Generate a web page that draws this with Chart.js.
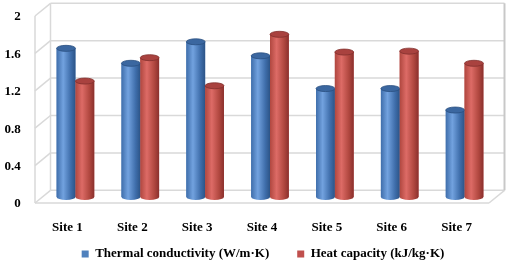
<!DOCTYPE html>
<html>
<head>
<meta charset="utf-8">
<script src="https://cdn.jsdelivr.net/npm/chart.js@4"></script>
<style>
  html, body { margin: 0; padding: 0; background: #fff; }
</style>
</head>
<body>
<canvas id="siteChart" width="509" height="262"></canvas>
<script>
var sites = ["Site 1", "Site 2", "Site 3", "Site 4", "Site 5", "Site 6", "Site 7"];
var thermalConductivity = [1.59, 1.43, 1.66, 1.51, 1.16, 1.16, 0.93];
var heatCapacity = [1.24, 1.49, 1.19, 1.74, 1.55, 1.56, 1.43];
var yTicks = [0, 0.4, 0.8, 1.2, 1.6, 2];

// offsets of the back wall and the front plane from the bars' plane
var BACK = { dx: 7.5, dy: -6.7 };
var FRONT = { dx: -8, dy: 6 };

var cylinderColors = [
  { edge: "#3f6eab", light: "#72a2df", dark: "#2c5487", top: "#3b67a0", rim: "#2a4f80" },
  { edge: "#b0473f", light: "#dd6b66", dark: "#8a302d", top: "#a9423f", rim: "#82302d" }
];

function line(ctx, x1, y1, x2, y2) {
  ctx.beginPath();
  ctx.moveTo(x1, y1);
  ctx.lineTo(x2, y2);
  ctx.stroke();
}

// grey walls and floor of the 3D box
var depthFrame = {
  id: "depthFrame",
  beforeDatasetsDraw: function (chart) {
    var ctx = chart.ctx, a = chart.chartArea, y = chart.scales.y;
    ctx.save();
    ctx.strokeStyle = "#d9d9d9";
    ctx.lineWidth = 1.5;
    yTicks.forEach(function (v) {
      var py = y.getPixelForValue(v);
      line(ctx, a.left + BACK.dx, py + BACK.dy, a.right + BACK.dx, py + BACK.dy);
      line(ctx, a.left + BACK.dx, py + BACK.dy, a.left + FRONT.dx, py + FRONT.dy);
    });
    line(ctx, a.left + BACK.dx, a.top + BACK.dy, a.left + BACK.dx, a.bottom + BACK.dy);
    line(ctx, a.left + FRONT.dx, a.top + FRONT.dy, a.left + FRONT.dx, a.bottom + FRONT.dy);
    line(ctx, a.left + FRONT.dx, a.bottom + FRONT.dy, a.right + FRONT.dx, a.bottom + FRONT.dy);
    line(ctx, a.right + FRONT.dx, a.bottom + FRONT.dy, a.right + BACK.dx, a.bottom + BACK.dy);
    ctx.strokeStyle = "#c8c8c8";
    ctx.lineWidth = 2;
    line(ctx, a.right + BACK.dx, a.top + BACK.dy, a.right + BACK.dx, a.bottom + BACK.dy);
    ctx.restore();
  }
};

// redraw every bar as a shaded cylinder
var cylinders = {
  id: "cylinders",
  afterDatasetsDraw: function (chart) {
    var ctx = chart.ctx;
    ctx.save();
    chart.data.datasets.forEach(function (ds, i) {
      var pal = cylinderColors[i];
      chart.getDatasetMeta(i).data.forEach(function (bar) {
        var p = bar.getProps(["x", "y", "base", "width"], true);
        var rx = p.width / 2, ry = 3;
        var l = p.x - rx, r = p.x + rx;
        var g = ctx.createLinearGradient(l, 0, r, 0);
        g.addColorStop(0, pal.edge);
        g.addColorStop(0.35, pal.light);
        g.addColorStop(0.75, pal.edge);
        g.addColorStop(1, pal.dark);
        ctx.fillStyle = g;
        ctx.beginPath();
        ctx.moveTo(l, p.y);
        ctx.lineTo(l, p.base);
        ctx.ellipse(p.x, p.base, rx, ry, 0, Math.PI, 0, true);
        ctx.lineTo(r, p.y);
        ctx.closePath();
        ctx.fill();
        ctx.fillStyle = pal.top;
        ctx.strokeStyle = pal.rim;
        ctx.lineWidth = 0.8;
        ctx.beginPath();
        ctx.ellipse(p.x, p.y, rx, ry, 0, 0, Math.PI * 2);
        ctx.fill();
        ctx.stroke();
      });
    });
    ctx.restore();
  }
};

Chart.defaults.font.family = "'Times New Roman', 'Liberation Serif', serif";
Chart.defaults.font.size = 13;
Chart.defaults.font.weight = "bold";
Chart.defaults.color = "#000";

var ctx = document.getElementById("siteChart").getContext("2d");
var siteChart = new Chart(ctx, {
  type: "bar",
  data: {
    labels: sites,
    datasets: [
      {
        label: "Thermal conductivity (W/m·K)",
        data: thermalConductivity,
        backgroundColor: "#4F81BD",
        borderWidth: 0
      },
      {
        label: "Heat capacity (kJ/kg·K)",
        data: heatCapacity,
        backgroundColor: "#C0504D",
        borderWidth: 0
      }
    ]
  },
  options: {
    responsive: false,
    animation: false,
    layout: {
      padding: { top: 10, left: 29, right: 12, bottom: -8.5 }
    },
    datasets: {
      bar: { categoryPercentage: 0.58, barPercentage: 1.0 }
    },
    scales: {
      x: {
        grid: { display: false, drawTicks: false },
        border: { display: false },
        // mirror keeps the labels from being clipped to the short axis box
        ticks: { mirror: true, padding: -38, labelOffset: -8 },
        afterFit: function (scale) {
          scale.height = 22.5;
          scale.paddingLeft = 0;
          scale.paddingRight = 0;
        }
      },
      y: {
        min: 0,
        max: 2,
        grid: { display: false, drawTicks: false },
        border: { display: false },
        ticks: {
          mirror: true,
          crossAlign: "far",
          padding: -38.5,
          labelOffset: 7,
          callback: function (value) { return String(+value); }
        },
        afterBuildTicks: function (scale) {
          scale.ticks = yTicks.map(function (v) { return { value: v }; });
        },
        afterFit: function (scale) {
          scale.width = 14;
          scale.paddingTop = 0;
          scale.paddingBottom = 0;
        }
      }
    },
    plugins: {
      legend: {
        position: "bottom",
        labels: { boxWidth: 7, boxHeight: 7, padding: 28 }
      },
      tooltip: { enabled: false }
    }
  },
  plugins: [depthFrame, cylinders]
});
</script>
</body>
</html>
